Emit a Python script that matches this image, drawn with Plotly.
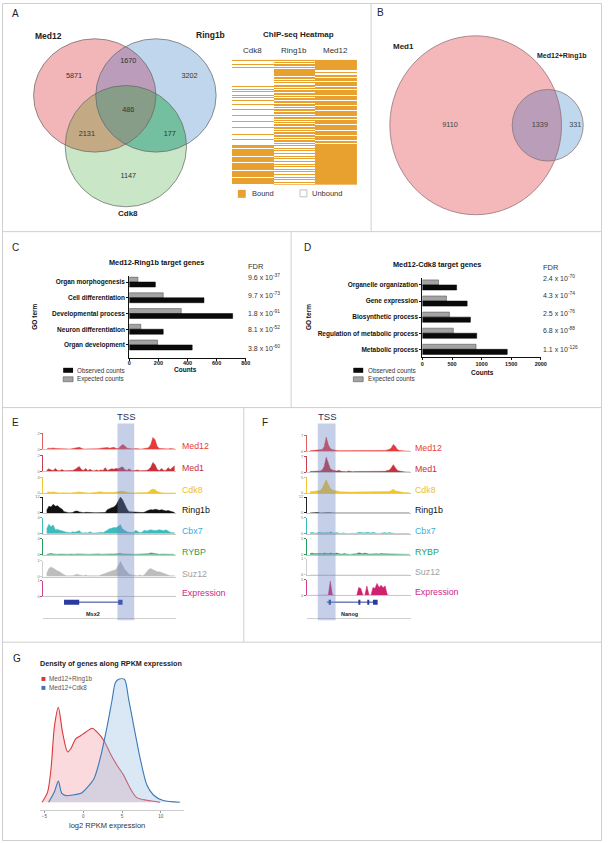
import math
import plotly.graph_objects as go

W, H = 608, 843
FONT = "Liberation Sans, Arial, sans-serif"


def px_x(p):
    return p / W


def px_y(p):
    return 1 - p / H


# ============================ DATA ============================
# Panel A - Venn counts (Med12, Ring1b, Cdk8)
venn_a_sets = ["Med12", "Ring1b", "Cdk8"]
venn_a_regions = ["Med12 only", "Ring1b only", "Cdk8 only", "Med12+Ring1b",
                  "Med12+Cdk8", "Ring1b+Cdk8", "all three"]
venn_a_counts = [5871, 3202, 1147, 1670, 2131, 177, 486]

# Panel A - ChIP-seq binary heatmap (1 = bound, 0 = unbound), rows top->bottom
heat_cols = ["Cdk8", "Ring1b", "Med12"]
heat_cdk8 = ("1000100100" "00000"
             "0000010000" "0010010100" "0101001000" "1000010000" "0100000100"
             "0001000000" "1000010" "0000"
             "1110111111" "1011111011" "1111101111" "1101111110")
heat_ring1b = ("1010110101" "11111"
               "1011011010" "0110101101" "1010110110" "1101011011" "0101101010"
               "1101101011" "0110101" "1010"
               "1001010010" "0101001001" "0100101001" "0010100101")
heat_med12 = ("1111111111" "00100"
              "1101111011" "1101101111" "1011110111" "1011110111" "1101101111"
              "0111110111" "1011110" "1101"
              "1111111111" "1111111111" "1111111111" "1111111111")
heat_legend = ["Bound", "Unbound"]

# Panel B - Venn counts (Med1 only, overlap, Med12+Ring1b only)
venn_b_sets = ["Med1", "Med12+Ring1b"]
venn_b_counts = [9110, 1339, 331]

# Panel C - GO terms Med12-Ring1b
c_terms = ["Organ morphogenesis", "Cell differentiation", "Developmental process",
           "Neuron differentiation", "Organ development"]
c_expected = [59, 233, 357, 79, 194]
c_observed = [179, 513, 710, 233, 432]
c_fdr = ["9.6 x 10<sup>-37</sup>", "9.7 x 10<sup>-73</sup>", "1.8 x 10<sup>-91</sup>",
         "8.1 x 10<sup>-52</sup>", "3.8 x 10<sup>-60</sup>"]
c_ticks = [0, 200, 400, 600, 800]

# Panel D - GO terms Med12-Cdk8
d_terms = ["Organelle organization", "Gene expression", "Biosynthetic process",
           "Regulation of metabolic process", "Metabolic process"]
d_expected = [272, 406, 456, 522, 906]
d_observed = [578, 756, 811, 917, 1433]
d_fdr = ["2.4 x 10<sup>-70</sup>", "4.3 x 10<sup>-74</sup>", "2.5 x 10<sup>-76</sup>",
         "6.8 x 10<sup>-88</sup>", "1.1 x 10<sup>-126</sup>"]
d_ticks = [0, 500, 1000, 1500, 2000]

# Panel E - tracks around Msx2 (60 bins)
track_names = ["Med12", "Med1", "Cdk8", "Ring1b", "Cbx7", "RYBP", "Suz12", "Expression"]
e_max = [2, 2, 4, 12, 4, 4, 1, 1]
e_med12 = [0.05, 0.15, 0.12, 0.18, 0.1, 0.08, 0.05, 0.05, 0.08, 0.05,
           0.05, 0.05, 0.08, 0.1, 0.22, 0.25, 0.15, 0.05, 0.05, 0.05,
           0.08, 0.05, 0.05, 0.1, 0.08, 0.15, 0.2, 0.18, 0.22, 0.15,
           0.2, 0.25, 0.12, 0.1, 0.35, 0.6, 0.45, 0.15, 0.1, 0.05,
           0.05, 0.1, 0.05, 0.05, 0.05, 0.08, 0.1, 0.2, 0.6, 1.5,
           1.2, 0.35, 0.12, 0.1, 0.05, 0.1, 0.05, 0.1, 0.12, 0.05]
e_med1 = [0.1, 0.3, 0.15, 0.1, 0.35, 0.1, 0.05, 0.2, 0.05, 0.05,
          0.05, 0.05, 0.1, 0.2, 0.4, 0.6, 0.2, 0.1, 0.35, 0.05,
          0.25, 0.05, 0.05, 0.15, 0.05, 0.15, 0.1, 0.45, 0.1, 0.2,
          0.3, 0.25, 0.35, 0.3, 0.4, 0.55, 0.2, 0.1, 0.3, 0.1,
          0.05, 0.1, 0.15, 0.05, 0.05, 0.05, 0.1, 0.2, 0.5, 1.1,
          0.8, 0.2, 0.1, 0.35, 0.1, 0.1, 0.45, 0.2, 0.5, 0.7]
e_cdk8 = [0.1, 0.3, 0.2, 0.3, 0.2, 0.1, 0.05, 0.1, 0.05, 0.05,
          0.05, 0.05, 0.1, 0.2, 0.35, 0.3, 0.2, 0.1, 0.05, 0.05,
          0.05, 0.1, 0.3, 0.35, 0.3, 0.35, 0.2, 0.1, 0.15, 0.2,
          0.1, 0.15, 0.25, 0.3, 0.4, 0.5, 0.3, 0.15, 0.1, 0.05,
          0.05, 0.05, 0.05, 0.05, 0.05, 0.1, 0.15, 0.3, 0.8, 1.0,
          0.9, 0.4, 0.15, 0.1, 0.05, 0.05, 0.05, 0.1, 0.05, 0.05]
e_ring1b = [2, 5, 4.5, 6.5, 5, 5.5, 4, 3, 1, 0.3,
            0.2, 0.2, 0.3, 1.2, 1.5, 0.8, 0.2, 0.2, 0.5, 0.3,
            0.2, 0.4, 0.2, 0.2, 0.3, 0.3, 0.2, 0.3, 2.5, 3.5,
            4, 4.5, 6, 9, 12, 10, 6, 3, 1, 0.8,
            0.8, 0.5, 0.3, 0.2, 0.3, 0.5, 1.5, 2, 2.5, 2.2,
            2.8, 2.5, 2, 2.5, 2.2, 1.5, 1.8, 1.2, 0.8, 0.3]
e_cbx7 = [1.2, 2.4, 1.8, 2.2, 1.0, 1.1, 0.9, 0.8, 0.6, 0.4,
          0.3, 0.3, 0.5, 0.4, 0.6, 0.8, 0.3, 0.2, 0.3, 0.2,
          0.5, 0.2, 0.2, 0.2, 0.3, 0.4, 0.3, 0.6, 1.0, 1.3,
          1.4, 1.6, 1.5, 2.0, 2.3, 1.2, 0.8, 0.5, 0.4, 0.3,
          0.3, 0.9, 0.6, 0.3, 0.4, 0.9, 0.7, 0.8, 1.0, 0.9,
          0.8, 0.9, 1.0, 0.9, 0.8, 1.0, 0.6, 0.4, 0.3, 0.3]
e_rybp = [0.1, 0.2, 0.3, 0.2, 0.1, 0.1, 0.15, 0.1, 0.1, 0.1,
          0.1, 0.15, 0.1, 0.1, 0.2, 0.15, 0.1, 0.1, 0.15, 0.1,
          0.1, 0.15, 0.1, 0.1, 0.2, 0.1, 0.15, 0.1, 0.2, 0.15,
          0.2, 0.15, 0.25, 0.2, 0.3, 0.2, 0.15, 0.1, 0.1, 0.1,
          0.1, 0.1, 0.1, 0.15, 0.1, 0.15, 0.2, 0.25, 0.45, 0.35,
          0.2, 0.15, 0.1, 0.15, 0.1, 0.15, 0.1, 0.1, 0.1, 0.05]
e_suz12 = [0.2, 0.5, 0.6, 0.55, 0.45, 0.35, 0.3, 0.2, 0.1, 0.05,
           0.05, 0.05, 0.05, 0.1, 0.15, 0.1, 0.05, 0.05, 0.1, 0.05,
           0.05, 0.05, 0.08, 0.05, 0.05, 0.1, 0.15, 0.2, 0.25, 0.3,
           0.3, 0.35, 0.45, 0.7, 0.95, 0.7, 0.45, 0.3, 0.15, 0.1,
           0.08, 0.05, 0.05, 0.1, 0.05, 0.1, 0.3, 0.45, 0.5, 0.45,
           0.35, 0.3, 0.3, 0.25, 0.2, 0.15, 0.1, 0.05, 0.05, 0.05]
e_expr = [0, 0, 0, 0, 0, 0, 0, 0, 0, 0,
          0, 0, 0, 0.03, 0.04, 0.03, 0.02, 0, 0, 0,
          0, 0, 0, 0, 0, 0, 0, 0, 0, 0,
          0, 0, 0, 0, 0.04, 0, 0, 0, 0, 0,
          0, 0, 0, 0, 0, 0, 0, 0, 0, 0,
          0, 0, 0, 0, 0, 0, 0, 0, 0, 0]
e_gene = "Msx2"
e_gene_span = [8, 34]
e_exons = [[8, 15], [33, 35]]

# Panel F - tracks around Nanog (50 bins)
f_max = [7, 7, 5, 12, 5, 5, 1, 5]
f_med12 = [0.2, 0.3, 0.2, 0.3, 0.4, 0.5, 0.8, 2, 6.3, 3,
           1.2, 0.8, 0.5, 0.4, 0.3, 0.3, 0.2, 0.2, 0.1, 0.1,
           0.3, 0.2, 0.1, 0.2, 0.4, 0.3, 0.3, 0.2, 0.3, 0.2,
           0.2, 0.3, 0.2, 0.3, 0.2, 0.2, 0.3, 0.4, 0.6, 0.8,
           1.5, 3, 2.2, 0.8, 0.4, 0.2, 0.1, 0.1, 0.1, 0.1]
f_med1 = [0.3, 0.4, 0.3, 0.3, 0.5, 0.5, 1.0, 2.5, 6.6, 3.5,
          1.5, 1.0, 0.6, 0.5, 0.8, 0.4, 0.3, 0.3, 0.2, 0.5,
          0.3, 0.2, 0.3, 0.3, 0.4, 0.3, 0.2, 0.5, 0.3, 0.2,
          0.3, 0.2, 0.3, 0.2, 0.4, 0.3, 0.5, 0.4, 0.7, 0.9,
          1.8, 3.3, 2.0, 0.8, 0.5, 0.3, 0.2, 0.1, 0.1, 0.1]
f_cdk8 = [0.4, 0.5, 0.4, 0.5, 0.6, 0.8, 1.5, 3, 4.2, 2.8,
          1.5, 1, 0.8, 0.6, 0.5, 0.4, 0.4, 0.3, 0.3, 0.3,
          0.3, 0.3, 0.4, 0.3, 0.3, 0.3, 0.4, 0.3, 0.3, 0.3,
          0.3, 0.3, 0.3, 0.3, 0.4, 0.3, 0.3, 0.4, 0.5, 0.5,
          0.8, 1.2, 0.7, 0.5, 0.4, 0.3, 0.2, 0.2, 0.1, 0.1]
f_ring1b = [0, 0.2, 0.3, 0.1, 0.3, 0, 0.2, 0.3, 0.1, 0.2,
            0.3, 0.1, 0, 0, 0, 0, 0, 0, 0, 0,
            0, 0, 0, 0, 0, 0, 0, 0, 0, 0.3,
            0.1, 0.4, 0.2, 0, 0, 0, 0, 0, 0, 0,
            0, 0.3, 0, 0, 0, 0, 0, 0, 0, 0]
f_cbx7 = [0.3, 0.5, 0.3, 0.2, 0.4, 0.3, 0.2, 0.3, 0.4, 0.3,
          0.6, 0.3, 0.2, 0.4, 0.2, 0.1, 0.3, 0.1, 0.1, 0.1,
          0.1, 0.1, 0.1, 0.2, 0.5, 0.4, 0.5, 0.3, 0.5, 0.4,
          0.3, 0.5, 0.2, 0.1, 0.1, 0.2, 0.1, 0.4, 0.2, 0.4,
          0.3, 0.1, 0.1, 0.1, 0.1, 0.1, 0.1, 0.1, 0.1, 0.1]
f_rybp = [0.3, 0.5, 0.3, 0.4, 0.5, 0.4, 0.3, 0.5, 0.4, 0.3,
          0.5, 0.4, 0.3, 0.5, 0.3, 0.2, 0.2, 0.4, 0.2, 0.1,
          0.1, 0.2, 0.2, 0.3, 0.6, 0.4, 0.3, 0.5, 0.3, 0.2,
          0.2, 0.3, 0.4, 0.3, 0.2, 0.4, 0.3, 0.3, 0.2, 0.2,
          0.2, 0.1, 0.1, 0.1, 0.1, 0.1, 0.1, 0.1, 0.1, 0.1]
f_suz12 = [0, 0, 0, 0, 0, 0, 0, 0, 0.03, 0,
           0, 0, 0, 0, 0, 0, 0, 0, 0, 0,
           0, 0, 0, 0, 0.03, 0, 0, 0, 0, 0,
           0, 0, 0, 0, 0, 0, 0, 0, 0, 0,
           0, 0.03, 0, 0, 0, 0, 0, 0, 0, 0]
f_expr = [0, 0, 0, 0, 0, 0, 0, 0, 0, 0.1,
          4.5, 0.3, 0, 0, 0, 0, 0, 0, 0, 0,
          0, 0, 0, 0, 2.5, 2.2, 0.2, 0, 3.0, 0.2,
          0, 2.5, 2.2, 3.8, 2.5, 3.2, 2.4, 3.0, 0.3, 0,
          0, 0, 0, 0, 0, 0, 0, 0, 0, 0]
f_gene = "Nanog"
f_gene_span = [8.3, 32.6]
f_exons = [[9.2, 10.3], [23.8, 24.8], [28.2, 29.2], [31, 33.3]]

# Panel G - density of genes along log2 RPKM expression
g_red_name = "Med12+Ring1b"
g_red_x = [-5.3, -4.6, -4.15, -3.7, -3.2, -2.65, -2.0, -1.6, -0.96, -0.3, 0.3, 1.17,
           1.8, 2.66, 3.5, 4.36, 5.2, 6.06, 6.9, 8.2, 9.9]
g_red_y = [0.0, 0.03, 0.10, 0.23, 0.287, 0.21, 0.152, 0.162, 0.192, 0.202, 0.212, 0.224,
           0.212, 0.187, 0.147, 0.112, 0.082, 0.042, 0.014, 0.006, 0.0]
g_blue_name = "Med12+Cdk8"
g_blue_x = [-4.45, -3.7, -3.2, -2.75, -2.2, -1.4, -0.3, 0.53, 1.4, 2.23, 3.1, 3.7, 4.15,
            4.57, 5.3, 5.85, 6.5, 7.34, 8.2, 9.04, 10.3, 12.45]
g_blue_y = [0.0, 0.032, 0.064, 0.027, 0.02, 0.022, 0.027, 0.045, 0.072, 0.137, 0.232,
            0.307, 0.362, 0.372, 0.372, 0.312, 0.232, 0.132, 0.052, 0.022, 0.005, 0.0]
g_ticks = [-5, 0, 5, 10]

# ============================ FIGURE ============================
fig = go.Figure()
layout_axes = {}
n_ax = [0]


def add_axes(xpx, ypx, xkw=None, ykw=None):
    n_ax[0] += 1
    i = n_ax[0]
    sx = "" if i == 1 else str(i)
    xa = dict(domain=[px_x(xpx[0]), px_x(xpx[1])], anchor="y" + sx,
              showgrid=False, zeroline=False)
    ya = dict(domain=[px_y(ypx[1]), px_y(ypx[0])], anchor="x" + sx,
              showgrid=False, zeroline=False)
    xa.update(xkw or {})
    ya.update(ykw or {})
    layout_axes["xaxis" + sx] = xa
    layout_axes["yaxis" + sx] = ya
    return "x" + sx, "y" + sx


annotations = []
shapes = []


def ann(text, x, y, size=7, color="#222", bold=False, xa="center", ya="middle", angle=0):
    t = "<b>%s</b>" % text if bold else text
    annotations.append(dict(text=t, x=px_x(x), y=px_y(y), xref="paper", yref="paper",
                            showarrow=False, font=dict(size=size, color=color, family=FONT),
                            xanchor=xa, yanchor=ya, textangle=angle, borderpad=0))


def rect_px(x0, y0, x1, y1, fill, line="rgba(0,0,0,0)", lw=0):
    shapes.append(dict(type="rect", xref="paper", yref="paper", x0=px_x(x0), x1=px_x(x1),
                       y0=px_y(y1), y1=px_y(y0), fillcolor=fill,
                       line=dict(color=line, width=lw), layer="above"))


def line_px(x0, y0, x1, y1, color="#cfcfcf", w=1):
    shapes.append(dict(type="line", xref="paper", yref="paper", x0=px_x(x0), x1=px_x(x1),
                       y0=px_y(y0), y1=px_y(y1), line=dict(color=color, width=w),
                       layer="above"))


# ---------- Venn helpers (geometry only) ----------
def ell_pts(e, n=720):
    cx, cy, rx, ry = e
    return [(cx + rx * math.cos(2 * math.pi * k / n), cy + ry * math.sin(2 * math.pi * k / n))
            for k in range(n)]


def inside(p, e):
    cx, cy, rx, ry = e
    return ((p[0] - cx) / rx) ** 2 + ((p[1] - cy) / ry) ** 2 <= 1.000001


def region_path(ells):
    pts = []
    for i, e in enumerate(ells):
        for p in ell_pts(e):
            if all(inside(p, o) for j, o in enumerate(ells) if j != i):
                pts.append(p)
    mx = sum(p[0] for p in pts) / len(pts)
    my = sum(p[1] for p in pts) / len(pts)
    pts.sort(key=lambda p: math.atan2(p[1] - my, p[0] - mx))
    return "M " + " L ".join("%.2f,%.2f" % p for p in pts) + " Z"


def venn_shapes(xr, yr, ells, singles, pairs, triple, outline):
    for e, c in zip(ells, singles):
        shapes.append(dict(type="path", xref=xr, yref=yr, path=region_path([e]),
                           fillcolor=c, line=dict(width=0), layer="below"))
    for (a, b), c in pairs:
        shapes.append(dict(type="path", xref=xr, yref=yr, path=region_path([ells[a], ells[b]]),
                           fillcolor=c, line=dict(width=0), layer="below"))
    if triple:
        shapes.append(dict(type="path", xref=xr, yref=yr, path=region_path(ells),
                           fillcolor=triple, line=dict(width=0), layer="below"))
    for e in ells:
        cx, cy, rx, ry = e
        shapes.append(dict(type="circle", xref=xr, yref=yr, x0=cx - rx, x1=cx + rx,
                           y0=cy - ry, y1=cy + ry, line=dict(color=outline, width=0.7),
                           fillcolor="rgba(0,0,0,0)", layer="below"))


# ---------- Panel A: Venn ----------
xa, ya = add_axes((0, 374), (0, 230), dict(range=[0, 374], visible=False),
                  dict(range=[230, 0], visible=False))
ellA = [(94, 93, 62, 57), (156, 93, 61, 57), (125.5, 144, 61.5, 61)]
venn_shapes(xa, ya, ellA, ["#f3b6b8", "#bfd6ec", "#c9e6c7"],
            [((0, 1), "#bb9cba"), ((0, 2), "#c4a985"), ((1, 2), "#74bfa0")],
            "#889d87", "#666666")
pos_a = [(73, 74), (190, 74), (128, 174), (128, 59), (86, 132), (170, 132), (128, 108)]
fig.add_trace(go.Scatter(x=[p[0] for p in pos_a], y=[p[1] for p in pos_a],
                         text=[str(v) for v in venn_a_counts], mode="text",
                         textfont=dict(size=7.3, color="#333", family=FONT),
                         xaxis=xa, yaxis=ya, showlegend=False, hoverinfo="skip"))
ann(venn_a_sets[0], 47, 33, 8.5, "#222", True)
ann(venn_a_sets[1], 211, 32, 8.5, "#222", True)
ann(venn_a_sets[2], 128, 212, 8, "#222", True)

# ---------- Panel A: heatmap ----------
cols = [heat_cdk8, heat_ring1b, heat_med12]
nrows = min(len(c) for c in cols)
xh, yh = add_axes((233, 360), (57, 183),
                  dict(visible=False, range=[-0.5, 2.5]),
                  dict(visible=False, range=[nrows - 0.5, -0.5]))
z = [[int(cols[c][r]) for c in range(3)] for r in range(nrows)]
fig.add_trace(go.Heatmap(z=z, x=[0, 1, 2], y=list(range(nrows)), zmin=0, zmax=1,
                         colorscale=[[0, "#ffffff"], [1, "#e8a12e"]], showscale=False,
                         xaxis=xh, yaxis=yh, hoverinfo="skip"))
ann("ChIP-seq Heatmap", 300, 32, 8, "#222", True)
for lbl, cx in zip(heat_cols, [254, 296, 338]):
    ann(lbl, cx, 48, 8, "#333")
rect_px(239, 188, 247, 196, "#e8a12e")
ann(heat_legend[0], 252, 192, 7.5, "#333", xa="left")
rect_px(302, 188, 309, 195, "#ffffff", "#999", 0.6)
ann(heat_legend[1], 313, 192, 7.5, "#333", xa="left")

# ---------- Panel B: Venn ----------
xb, yb = add_axes((374, 608), (0, 230), dict(range=[374, 608], visible=False),
                  dict(range=[230, 0], visible=False))
ellB = [(480, 123, 87, 90), (553, 123, 36, 36)]
venn_shapes(xb, yb, ellB, ["#f4b8ba", "#c0d8ee"], [((0, 1), "#b99db9")], None, "#8a6a70")
pos_b = [(454, 123), (545, 123), (581, 123)]
fig.add_trace(go.Scatter(x=[p[0] for p in pos_b], y=[p[1] for p in pos_b],
                         text=[str(v) for v in venn_b_counts], mode="text",
                         textfont=dict(size=7.3, color="#444", family=FONT),
                         xaxis=xb, yaxis=yb, showlegend=False, hoverinfo="skip"))
ann(venn_b_sets[0], 407, 44, 8, "#222", True)
ann(venn_b_sets[1], 567, 53, 7, "#222", True)


# ---------- Panels C & D: GO bars ----------
def go_panel(xpx, ypx, terms, exp, obs, ticks, yrange, standoff):
    xr, yr = add_axes(xpx, ypx,
                      dict(range=[ticks[0], ticks[-1]], tickvals=ticks, showline=True,
                           linecolor="#111", linewidth=1, ticks="outside", ticklen=2,
                           tickcolor="#111", ticklabelstandoff=standoff,
                           tickfont=dict(size=5.5, color="#111", family=FONT, weight="bold")),
                      dict(type="category", categoryorder="array", categoryarray=terms,
                           range=yrange, showline=True, linecolor="#111", linewidth=1,
                           ticks="outside", ticklen=2, tickcolor="#111",
                           tickfont=dict(size=6.5, color="#111", family=FONT, weight="bold")))
    fig.add_trace(go.Bar(y=terms, x=exp, orientation="h", xaxis=xr, yaxis=yr,
                         marker=dict(color="#a3a3a3", line=dict(color="#444", width=0.5)),
                         showlegend=False, hoverinfo="skip"))
    fig.add_trace(go.Bar(y=terms, x=obs, orientation="h", xaxis=xr, yaxis=yr,
                         marker=dict(color="#0a0a0a", line=dict(color="#000", width=0.5)),
                         showlegend=False, hoverinfo="skip"))


go_panel((129, 247), (275, 357), c_terms, c_expected, c_observed, c_ticks, [4.82, -0.36], -2)
go_panel((426, 546), (277, 356), d_terms, d_expected, d_observed, d_ticks, [4.47, -0.41], 0)

ann("Med12-Ring1b target genes", 157, 261, 7.3, "#111", True)
ann("Med12-Cdk8 target genes", 441, 263, 7.3, "#111", True)
ann("GO term", 33, 316, 6.5, "#111", True, angle=-90)
ann("GO term", 310, 316, 6.5, "#111", True, angle=-90)
ann("Counts", 186, 369, 6.5, "#111", True)
ann("Counts", 487, 372, 6.5, "#111", True)
ann("FDR", 248, 265, 7.5, "#333", xa="left")
ann("FDR", 547, 266, 7.5, "#333", xa="left")
for txt, yy in zip(c_fdr, [276, 294, 312, 328, 347]):
    ann(txt, 248, yy, 7, "#333", xa="left")
for txt, yy in zip(d_fdr, [277, 294, 312, 329, 348]):
    ann(txt, 547, yy, 7, "#333", xa="left")
for x0, tx in [(62, 75), (356, 370)]:
    rect_px(x0, 367, x0 + 10, 372, "#0a0a0a")
    ann("Observed counts", tx, 369.5, 6.3, "#333", xa="left")
    rect_px(x0, 376, x0 + 10, 381, "#a3a3a3", "#444", 0.5)
    ann("Expected counts", tx, 378.5, 6.3, "#333", xa="left")

# ---------- Panels E & F: genome tracks ----------
fill_colors = ["#e63b3b", "#c9303a", "#f0c632", "#111111", "#3cbcbc", "#2a9a5e", "#bdbdbd", "#d0206e"]
axis_colors = ["#e06060", "#c94050", "#f0c632", "#222222", "#3cbcbc", "#2a9a5e", "#cfcfcf", "#d0408a"]
label_colors = ["#e8403a", "#c8303a", "#e8c030", "#111111", "#3aaed8", "#2aa055", "#a0a0a0", "#d02888"]


def track_panel(xpx, baselines, data, maxes, label_x, nbins):
    for k, (vals, mx) in enumerate(zip(data, maxes)):
        b = baselines[k]
        xr, yr = add_axes(xpx, (b - 16, b),
                          dict(range=[-1.5, nbins - 0.5], showline=True, linecolor="#c8c8c8",
                               linewidth=0.6, showticklabels=False, ticks=""),
                          dict(range=[0, mx], showline=True, linecolor=axis_colors[k],
                               linewidth=1, ticks="outside", ticklen=2, tickcolor=axis_colors[k],
                               tickvals=[0, mx], ticktext=["0", str(mx)],
                               tickfont=dict(size=4, color="#777", family=FONT)))
        fig.add_trace(go.Scatter(x=list(range(len(vals))), y=vals, mode="lines",
                                 line=dict(color=fill_colors[k], width=0.5),
                                 fill="tozeroy", fillcolor=fill_colors[k],
                                 xaxis=xr, yaxis=yr, showlegend=False, hoverinfo="skip"))
        ann(track_names[k], label_x, b - 3, 8.8, label_colors[k], xa="left")


def gene_panel(xpx, nbins, span, exons, name, name_x):
    xr, yr = add_axes(xpx, (598, 619),
                      dict(range=[-1.5, nbins - 0.5], showline=True, linecolor="#d0d0d0",
                           linewidth=0.6, showticklabels=False, ticks=""),
                      dict(range=[-1, 1], visible=False))
    fig.add_trace(go.Scatter(x=span, y=[0.55, 0.55], mode="lines",
                             line=dict(color="#2b3a9e", width=1),
                             xaxis=xr, yaxis=yr, showlegend=False, hoverinfo="skip"))
    for ex in exons:
        fig.add_trace(go.Scatter(x=ex, y=[0.55, 0.55], mode="lines",
                                 line=dict(color="#2b3a9e", width=5),
                                 xaxis=xr, yaxis=yr, showlegend=False, hoverinfo="skip"))
    ann(name, name_x, 615, 5.5, "#222", True)


track_panel((42, 176), [449, 471, 493, 513, 534, 555, 577, 597],
            [e_med12, e_med1, e_cdk8, e_ring1b, e_cbx7, e_rybp, e_suz12, e_expr],
            e_max, 181, len(e_med12))
gene_panel((42, 176), len(e_med12), e_gene_span, e_exons, e_gene, 92)
track_panel((309, 414), [451, 472, 493, 513, 534, 555, 575, 596],
            [f_med12, f_med1, f_cdk8, f_ring1b, f_cbx7, f_rybp, f_suz12, f_expr],
            f_max, 417, len(f_med12))
gene_panel((309, 414), len(f_med12), f_gene_span, f_exons, f_gene, 352)

rect_px(117, 423, 134, 621, "rgba(110,135,197,0.4)")
rect_px(320, 423, 338, 621, "rgba(110,135,197,0.4)")
ann("TSS", 126, 416, 9.5, "#2a3050")
ann("TSS", 329, 416, 9.5, "#2a3050")

# ---------- Panel G: density ----------
xg, yg = add_axes((39, 184.6), (671, 812),
                  dict(range=[-5.5, 13], tickvals=g_ticks, showline=True, linecolor="#cccccc",
                       linewidth=0.6, ticks="outside", ticklen=2, tickcolor="#999",
                       tickfont=dict(size=4.5, color="#555", family=FONT)),
                  dict(range=[-0.024, 0.4], visible=False))
fig.add_trace(go.Scatter(x=g_red_x, y=g_red_y, mode="lines",
                         line=dict(color="#d63a3e", width=1.1, shape="spline", smoothing=0.8),
                         fill="tozeroy", fillcolor="rgba(240,150,155,0.35)",
                         xaxis=xg, yaxis=yg, showlegend=False, hoverinfo="skip"))
fig.add_trace(go.Scatter(x=g_blue_x, y=g_blue_y, mode="lines",
                         line=dict(color="#3a78b8", width=1.1, shape="spline", smoothing=0.8),
                         fill="tozeroy", fillcolor="rgba(150,190,230,0.35)",
                         xaxis=xg, yaxis=yg, showlegend=False, hoverinfo="skip"))
ann("Density of genes along RPKM expression", 37, 664, 7.2, "#222", True, xa="left")
rect_px(40, 678, 44, 682, "#d63a3e")
ann(g_red_name, 47, 680, 6.3, "#555", xa="left")
rect_px(40, 687, 44, 691, "#3a78b8")
ann(g_blue_name, 47, 689, 6.3, "#555", xa="left")
ann("log2 RPKM expression", 106, 827, 7.5, "#333")

# ---------- Panel letters and borders ----------
for letter, x, y in [("A", 14, 11), ("B", 384, 10), ("C", 14, 246), ("D", 310, 246),
                     ("E", 14, 422), ("F", 267, 422), ("G", 15, 659)]:
    ann(letter, x, y, 10, "#222")

line_px(374, 0, 374, 230)
line_px(0, 230, 608, 230)
line_px(293, 230, 293, 407)
line_px(0, 407, 608, 407)
line_px(245, 407, 245, 643)
line_px(0, 643, 608, 643)
shapes.append(dict(type="rect", xref="paper", yref="paper", x0=px_x(0.5), x1=px_x(607.5),
                   y0=px_y(842.5), y1=px_y(0.5), line=dict(color="#cfcfcf", width=1),
                   fillcolor="rgba(0,0,0,0)", layer="above"))

fig.update_layout(width=W, height=H, margin=dict(l=0, r=0, t=0, b=0),
                  paper_bgcolor="white", plot_bgcolor="rgba(0,0,0,0)",
                  barmode="group", bargap=0.37, bargroupgap=0,
                  font=dict(family=FONT), showlegend=False,
                  annotations=annotations, shapes=shapes, **layout_axes)

fig.write_html("out.html", config={"displayModeBar": False},
               post_script="document.body.style.margin='0';document.body.style.padding='0';"
                           "document.documentElement.style.overflow='hidden';")
